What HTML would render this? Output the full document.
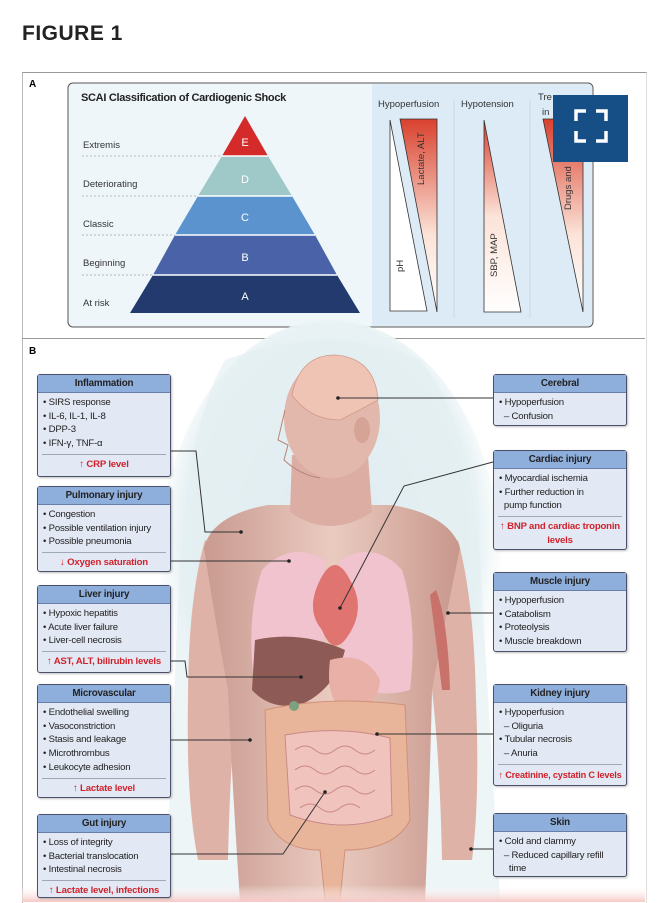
<!DOCTYPE html>
<html><head><meta charset="utf-8"><style>
body{margin:0;width:667px;height:902px;background:#fff;position:relative;overflow:hidden;font-family:"Liberation Sans",sans-serif;}
.abs{position:absolute;}
.box{position:absolute;background:#e2e8f4;border:1px solid #4a5068;border-radius:3px;font-size:9.6px;color:#222;box-shadow:1px 1px 2px rgba(0,0,0,.25);}
.box .h{background:#8eaedb;text-align:center;font-weight:bold;font-size:9.8px;height:17px;line-height:17px;border-bottom:1px solid #6a7fa8;letter-spacing:-.2px}
.box .b{padding:3px 4px 0 5px;line-height:13.7px;letter-spacing:-.2px}
.box .r{color:#d1222b;font-weight:bold;text-align:center;border-top:1px solid #a0a8b8;margin:3px 4px 0 4px;padding-top:3px;line-height:14px;letter-spacing:-.2px}
.lbl{position:absolute;font-size:9.5px;color:#333;}
</style></head><body>
<div class="abs" style="left:22px;top:22px;font-size:21px;font-weight:bold;color:#222;letter-spacing:.5px">FIGURE 1</div>
<div class="abs" style="left:22px;top:72px;width:623px;height:830px;border-top:1px solid #999;border-left:1px solid #bbb;border-right:1px solid #ddd"></div>
<div class="abs" style="left:22px;top:338px;width:623px;border-top:1px solid #999"></div>
<div class="abs" style="left:29px;top:79px;font-size:10px;font-weight:bold">A</div>
<div class="abs" style="left:29px;top:346px;font-size:10px;font-weight:bold">B</div>

<svg class="abs" style="left:0;top:0" width="667" height="902">
<defs>
<linearGradient id="rg" x1="0" y1="0" x2="0" y2="1"><stop offset="0" stop-color="#d9412e"/><stop offset=".6" stop-color="#fbe3d8"/><stop offset="1" stop-color="#fff"/></linearGradient>
<linearGradient id="rg2" x1="0" y1="1" x2="0" y2="0"><stop offset="0" stop-color="#fff"/><stop offset=".5" stop-color="#fbe3d8"/><stop offset="1" stop-color="#d9412e"/></linearGradient>
<radialGradient id="glow" cx=".5" cy=".45" r=".55"><stop offset="0" stop-color="#dbe9ec"/><stop offset=".8" stop-color="#e8f2f4"/><stop offset="1" stop-color="#fff" stop-opacity="0"/></radialGradient>
<linearGradient id="skin" x1="0" y1="0" x2="1" y2="0"><stop offset="0" stop-color="#c99a90"/><stop offset=".5" stop-color="#eacbc0"/><stop offset="1" stop-color="#c8978c"/></linearGradient>
<linearGradient id="btm" x1="0" y1="0" x2="0" y2="1"><stop offset="0" stop-color="#fff" stop-opacity="0"/><stop offset="1" stop-color="#f6c9c6"/></linearGradient>
</defs>
<rect x="68" y="83" width="525" height="244" rx="5" fill="#eef6fa" stroke="#555" stroke-width="1"/>
<path d="M372 84 H588 a4 4 0 0 1 4 4 V322 a4 4 0 0 1 -4 4 H372Z" fill="#dcebf5"/>
<line x1="454" y1="100" x2="454" y2="318" stroke="#c9dbe6"/>
<line x1="530" y1="100" x2="530" y2="318" stroke="#c9dbe6"/>
<g stroke="#bbb" stroke-dasharray="2,2"><line x1="82" y1="156" x2="222" y2="156"/><line x1="82" y1="196" x2="197" y2="196"/><line x1="82" y1="235" x2="175" y2="235"/><line x1="82" y1="275" x2="153" y2="275"/></g>
<polygon points="245,116 268,156 222,156" fill="#d52a2a"/>
<polygon points="222,156 268,156 292,196 198,196" fill="#9fc8c8"/>
<polygon points="198,196 292,196 315,235 175,235" fill="#5b93cf"/>
<polygon points="175,235 315,235 337,275 153,275" fill="#4a63a8"/>
<polygon points="153,275 337,275 360,313 130,313" fill="#233a6e"/>
<g stroke="#fff" stroke-width="1.5"><line x1="222" y1="156" x2="268" y2="156"/><line x1="198" y1="196" x2="292" y2="196"/><line x1="175" y1="235" x2="315" y2="235"/><line x1="153" y1="275" x2="337" y2="275"/></g>
<g fill="#fff" font-size="11" text-anchor="middle" font-family="Liberation Sans"><text x="245" y="146">E</text><text x="245" y="183">D</text><text x="245" y="221">C</text><text x="245" y="261">B</text><text x="245" y="300">A</text></g>
<polygon points="390,120 390,311 427,311" fill="#fff" stroke="#333" stroke-width=".8"/>
<polygon points="400,119 437,119 437,312" fill="url(#rg)" stroke="#333" stroke-width=".8"/>
<polygon points="484,120 484,312 521,312" fill="url(#rg2)" stroke="#333" stroke-width=".8"/>
<polygon points="543,119 583,119 583,312" fill="url(#rg)" stroke="#333" stroke-width=".8"/>
<g font-size="9.5" fill="#333" font-family="Liberation Sans">
<text transform="translate(403,272) rotate(-90)">pH</text>
<text transform="translate(424,185) rotate(-90)">Lactate, ALT</text>
<text transform="translate(497,277) rotate(-90)">SBP, MAP</text>
<text transform="translate(571,210) rotate(-90)">Drugs and</text>
<text x="378" y="107">Hypoperfusion</text><text x="461" y="107">Hypotension</text><text x="538" y="100">Tre</text><text x="542" y="115">in</text>
</g>
<rect x="553" y="95" width="75" height="67" fill="#164f85"/>
<g stroke="#fff" stroke-width="3.5" fill="none"><path d="M576 121 V111 H586"/><path d="M596 111 H606 V121"/><path d="M576 131 V141 H586"/><path d="M596 141 H606 V131"/></g>

<ellipse cx="330" cy="560" rx="170" ry="240" fill="url(#glow)"/>
<path d="M225 360 Q330 320 420 360 Q470 420 480 560 L500 900 L165 900 L180 560 Q190 420 225 360Z" fill="#e3eff1" opacity=".6"/>
<path d="M205 540 Q188 600 188 700 Q186 800 198 860 L228 860 Q230 760 238 690 L245 560Z" fill="#dfb2a8"/>
<path d="M458 540 Q474 600 476 700 Q480 800 472 860 L442 860 Q440 760 432 690 L425 560Z" fill="#dfb2a8"/>
<path d="M268 505 Q212 515 204 548 Q215 620 228 690 Q232 780 240 902 L425 902 Q430 780 432 690 Q445 620 460 548 Q450 515 392 505Z" fill="url(#skin)"/>
<path d="M292 455 L290 512 Q330 540 372 512 L368 455Z" fill="#dcaea3"/>
<ellipse cx="332" cy="418" rx="48" ry="60" fill="#e2b8ad"/>
<path d="M292 395 Q300 355 335 355 Q375 358 378 400 Q360 410 340 420 Q310 420 292 395Z" fill="#f0c4b5" stroke="#d39a8a" stroke-width=".8"/>
<ellipse cx="362" cy="430" rx="8" ry="13" fill="#d5a496"/>
<path d="M285 410 L278 440 L288 445 L284 460 Q300 475 320 478" fill="none" stroke="#b78578" stroke-width="1"/>
<path d="M325 560 Q290 540 262 570 Q245 620 255 690 Q290 700 318 680 Q328 620 325 560Z" fill="#f0c3cf"/>
<path d="M340 560 Q375 540 402 570 Q418 620 410 690 Q375 700 345 680 Q338 620 340 560Z" fill="#f0c3cf"/>
<path d="M320 580 Q335 550 350 580 Q368 610 345 640 Q332 655 322 630 Q305 610 320 580Z" fill="#e07470"/>
<path d="M255 640 Q300 630 345 650 Q335 690 300 705 Q270 710 252 690Z" fill="#8e5a55"/>
<path d="M330 660 Q365 650 380 680 Q378 710 345 712 Q325 700 330 660Z" fill="#e8b0a6"/>
<path d="M265 710 Q330 695 405 705 L410 820 Q395 850 345 850 L340 900 L325 900 L320 850 Q280 850 268 820Z" fill="#e9b59a" stroke="#cf9078" stroke-width="1"/>
<path d="M285 735 Q340 725 390 738 L392 815 Q345 835 290 815Z" fill="#f1c3bd" stroke="#c9898a" stroke-width="1"/>
<g fill="none" stroke="#c98888" stroke-width="1"><path d="M295 750 q10 -8 20 0 t20 0 t20 0 t20 0"/><path d="M295 770 q10 -8 20 0 t20 0 t20 0 t20 0"/><path d="M295 790 q10 -8 20 0 t20 0 t20 0 t20 0"/><path d="M300 808 q10 -8 20 0 t20 0 t20 0"/></g>
<circle cx="294" cy="706" r="5" fill="#7fa080"/>
<path d="M436 590 Q448 620 450 690 L442 690 Q436 640 430 595Z" fill="#c9716b"/>
<rect x="22" y="885" width="623" height="17" fill="url(#btm)"/>
<g stroke="#333" stroke-width="1" fill="none">
<polyline points="169,451 196,451 205,532 241,532"/>
<polyline points="169,561 289,561"/>
<polyline points="169,661 185,661 187,677 301,677"/>
<polyline points="169,740 250,740"/>
<polyline points="169,854 283,854 325,792"/>
<polyline points="493,398 338,398"/>
<polyline points="493,462 404,486 340,608"/>
<polyline points="493,613 448,613"/>
<polyline points="493,734 377,734"/>
<polyline points="493,849 471,849"/>
</g>
<g fill="#222"><circle cx="241" cy="532" r="1.8"/><circle cx="289" cy="561" r="1.8"/><circle cx="301" cy="677" r="1.8"/><circle cx="250" cy="740" r="1.8"/><circle cx="325" cy="792" r="1.8"/><circle cx="338" cy="398" r="1.8"/><circle cx="340" cy="608" r="1.8"/><circle cx="448" cy="613" r="1.8"/><circle cx="377" cy="734" r="1.8"/><circle cx="471" cy="849" r="1.8"/></g>
</svg>

<div class="abs" style="left:81px;top:92px;font-size:11px;font-weight:bold;color:#222;letter-spacing:-.3px">SCAI Classification of Cardiogenic Shock</div>
<div class="lbl" style="left:83px;top:140px">Extremis</div>
<div class="lbl" style="left:83px;top:179px">Deteriorating</div>
<div class="lbl" style="left:83px;top:219px">Classic</div>
<div class="lbl" style="left:83px;top:258px">Beginning</div>
<div class="lbl" style="left:83px;top:298px">At risk</div>

<div class="box" style="left:37px;top:374px;width:132px;height:101px"><div class="h">Inflammation</div><div class="b">• SIRS response<br>• IL-6, IL-1, IL-8<br>• DPP-3<br>• IFN-γ, TNF-α</div><div class="r">↑ CRP level</div></div>
<div class="box" style="left:37px;top:486px;width:132px;height:84px"><div class="h">Pulmonary injury</div><div class="b">• Congestion<br>• Possible ventilation injury<br>• Possible pneumonia</div><div class="r">↓ Oxygen saturation</div></div>
<div class="box" style="left:37px;top:585px;width:132px;height:86px"><div class="h">Liver injury</div><div class="b">• Hypoxic hepatitis<br>• Acute liver failure<br>• Liver-cell necrosis</div><div class="r">↑ AST, ALT, bilirubin levels</div></div>
<div class="box" style="left:37px;top:684px;width:132px;height:112px"><div class="h">Microvascular</div><div class="b">• Endothelial swelling<br>• Vasoconstriction<br>• Stasis and leakage<br>• Microthrombus<br>• Leukocyte adhesion</div><div class="r">↑ Lactate level</div></div>
<div class="box" style="left:37px;top:814px;width:132px;height:82px"><div class="h">Gut injury</div><div class="b">• Loss of integrity<br>• Bacterial translocation<br>• Intestinal necrosis</div><div class="r">↑ Lactate level, infections</div></div>

<div class="box" style="left:493px;top:374px;width:132px;height:50px"><div class="h">Cerebral</div><div class="b">• Hypoperfusion<br>&nbsp;&nbsp;– Confusion</div></div>
<div class="box" style="left:493px;top:450px;width:132px;height:98px"><div class="h">Cardiac injury</div><div class="b">• Myocardial ischemia<br>• Further reduction in<br>&nbsp;&nbsp;pump function</div><div class="r">↑ BNP and cardiac troponin levels</div></div>
<div class="box" style="left:493px;top:572px;width:132px;height:78px"><div class="h">Muscle injury</div><div class="b">• Hypoperfusion<br>• Catabolism<br>• Proteolysis<br>• Muscle breakdown</div></div>
<div class="box" style="left:493px;top:684px;width:132px;height:100px"><div class="h">Kidney injury</div><div class="b">• Hypoperfusion<br>&nbsp;&nbsp;– Oliguria<br>• Tubular necrosis<br>&nbsp;&nbsp;– Anuria</div><div class="r" style="font-size:9.2px">↑ Creatinine, cystatin C levels</div></div>
<div class="box" style="left:493px;top:813px;width:132px;height:62px"><div class="h">Skin</div><div class="b">• Cold and clammy<br>&nbsp;&nbsp;– Reduced capillary refill<br>&nbsp;&nbsp;&nbsp;&nbsp;time</div></div>
</body></html>
